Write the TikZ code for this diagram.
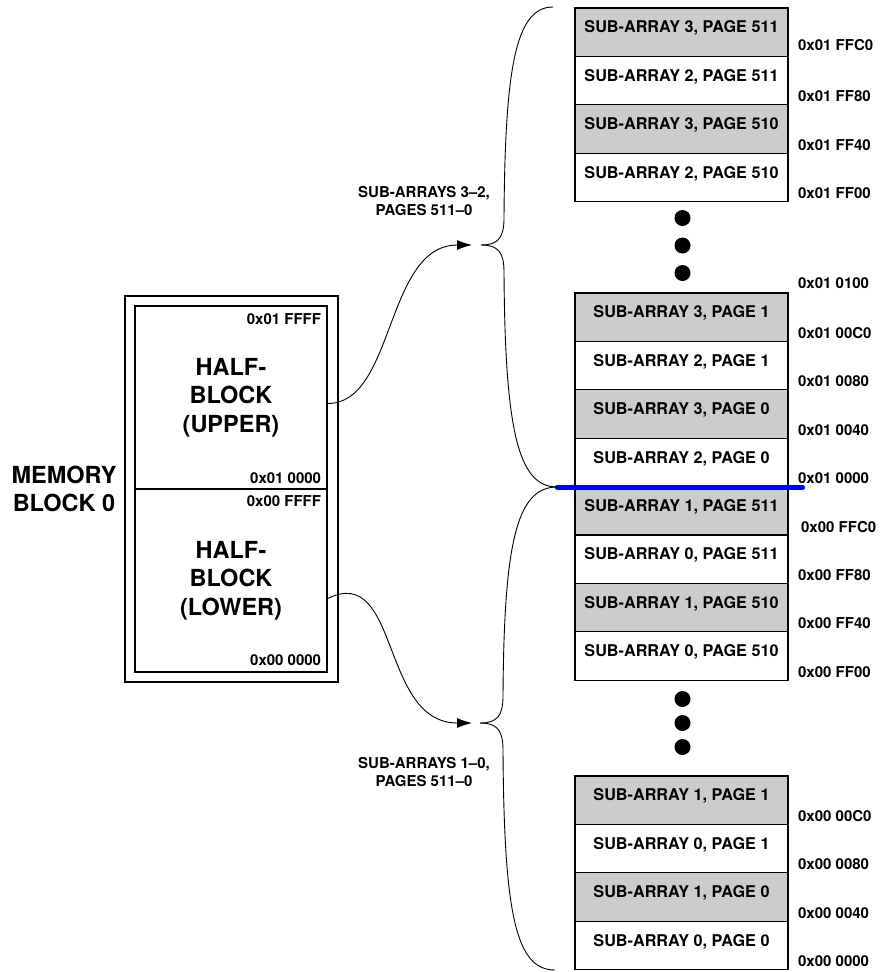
\documentclass[tikz,border=0pt]{standalone}
\usepackage{fontspec}
\setmainfont{TeX Gyre Heros}
\usetikzlibrary{positioning,arrows.meta}
\newcommand{\cellfont}{\fontsize{16.2}{18}\selectfont\bfseries}
\newcommand{\addrfont}{\fontsize{15}{18}\selectfont\bfseries}
\newcommand{\spanfont}{\fontsize{15}{18}\selectfont\bfseries}
\newcommand{\bigfont}{\fontsize{23.5}{28.5}\selectfont\bfseries}

\begin{document}
\begin{tikzpicture}[x=1pt,y=-1pt,node distance=48.4pt,
    cell/.style={draw,line width=1.2pt,minimum width=213pt,minimum height=48.4pt,
      text height=12pt,text depth=10.5pt,font=\cellfont},
    shaded/.style={cell,fill=gray!40},
    addr/.style={font=\addrfont,anchor=west,xshift=6pt,yshift=9pt},
    inaddr/.style={font=\addrfont,anchor=east,xshift=-3pt},
    half/.style={draw,line width=1.2pt,minimum width=192pt,minimum height=183pt,
      align=center,font=\bigfont},
    dot/.style={circle,fill,inner sep=0pt,minimum size=16pt},
    link/.style={line width=0.9pt,-{Latex[length=15pt,width=10pt]}},
    brace/.style={line width=0.9pt}]
    \useasboundingbox (0,0) rectangle (879,972);

    % memory block on the left
    \node[draw,line width=1.2pt,minimum width=213pt,minimum height=386pt] (block) at (231.5,489) {};
    \node[half,label={[inaddr,yshift=-14pt]north east:0x01 FFFF},
      label={[inaddr,yshift=11pt]south east:0x01 0000}] (upper) at (231,397.5) {HALF-\\BLOCK\\(UPPER)};
    \node[half,label={[inaddr,yshift=-13pt]north east:0x00 FFFF},
      label={[inaddr,yshift=12pt]south east:0x00 0000}] (lower) at (231,580.5) {HALF-\\BLOCK\\(LOWER)};
    \node[font=\bigfont,align=center] (name) at (64,489) {MEMORY\\BLOCK 0};

    % pages 511-510 of sub-arrays 3-2
    \node[shaded,label={[addr,yshift=3pt]south east:0x01 FFC0}] (s3p511) at (681.5,32.2) {SUB-ARRAY 3, PAGE 511};
    \node[cell,label={[addr]south east:0x01 FF80}] (s2p511) [below of=s3p511] {SUB-ARRAY 2, PAGE 511};
    \node[shaded,label={[addr]south east:0x01 FF40}] (s3p510) [below of=s2p511] {SUB-ARRAY 3, PAGE 510};
    \node[cell,label={[addr]south east:0x01 FF00}] (s2p510) [below of=s3p510] {SUB-ARRAY 2, PAGE 510};

    \node[dot] (d1) at (682.5,218) {};
    \node[dot] (d2) at (682.5,245.5) {};
    \node[dot] (d3) at (682.5,273) {};

    % pages 1-0 of sub-arrays 3-2, pages 511-510 of sub-arrays 1-0
    \node[shaded,label={[addr]north east:0x01 0100},
      label={[addr]south east:0x01 00C0}] (s3p1) at (681.5,317.2) {SUB-ARRAY 3, PAGE 1};
    \node[cell,label={[addr]south east:0x01 0080}] (s2p1) [below of=s3p1] {SUB-ARRAY 2, PAGE 1};
    \node[shaded,label={[addr]south east:0x01 0040}] (s3p0) [below of=s2p1] {SUB-ARRAY 3, PAGE 0};
    \node[cell,label={[addr]south east:0x01 0000}] (s2p0) [below of=s3p0] {SUB-ARRAY 2, PAGE 0};
    \node[shaded,label={[addr,xshift=3pt]south east:0x00 FFC0}] (s1p511) [below of=s2p0] {SUB-ARRAY 1, PAGE 511};
    \node[cell,label={[addr]south east:0x00 FF80}] (s0p511) [below of=s1p511] {SUB-ARRAY 0, PAGE 511};
    \node[shaded,label={[addr]south east:0x00 FF40}] (s1p510) [below of=s0p511] {SUB-ARRAY 1, PAGE 510};
    \node[cell,label={[addr]south east:0x00 FF00}] (s0p510) [below of=s1p510] {SUB-ARRAY 0, PAGE 510};

    \node[dot] (d4) at (682.5,699) {};
    \node[dot] (d5) at (682.5,723) {};
    \node[dot] (d6) at (682.5,747) {};

    % pages 1-0 of sub-arrays 1-0
    \node[shaded,label={[addr]south east:0x00 00C0}] (s1p1) at (681.5,800.2) {SUB-ARRAY 1, PAGE 1};
    \node[cell,label={[addr]south east:0x00 0080}] (s0p1) [below of=s1p1] {SUB-ARRAY 0, PAGE 1};
    \node[shaded,label={[addr]south east:0x00 0040}] (s1p0) [below of=s0p1] {SUB-ARRAY 1, PAGE 0};
    \node[cell,label={[addr]south east:0x00 0000}] (s0p0) [below of=s1p0] {SUB-ARRAY 0, PAGE 0};

    % split between the two half-blocks
    \draw[blue,line width=5pt,line cap=round] ([xshift=-17pt]s2p0.south west) -- ([xshift=14pt]s2p0.south east);

    \node[font=\spanfont,align=center] (spanU) at (424,201) {SUB-ARRAYS 3--2,\\PAGES 511--0};
    \node[font=\spanfont,align=center] (spanL) at (424,772) {SUB-ARRAYS 1--0,\\PAGES 511--0};

    \coordinate (tipU) at (472,245);
    \coordinate (tipL) at (472,723);
    \coordinate (braceU) at (481,245);
    \coordinate (braceL) at (480,723);

    \draw[link] ([yshift=-6pt]upper.east) .. controls (395,404) and (385,245) .. (tipU);
    \draw[link] ([yshift=-18pt]lower.east) .. controls (400,563) and (380,723) .. (tipL);

    % braces
    \draw[brace] (braceU) .. controls (498,245) and (504,238) .. (504,218)
      .. controls (505,70) and (515,7) .. (553,7);
    \draw[brace] (braceU) .. controls (498,245) and (504,252) .. (504,272)
      .. controls (505,430) and (518,487) .. (557,487);
    \draw[brace] (braceL) .. controls (497,723) and (503,716) .. (503,696)
      .. controls (504,545) and (516,487) .. (557,487);
    \draw[brace] (braceL) .. controls (497,723) and (503,730) .. (503,750)
      .. controls (504,915) and (516,970) .. (555,970);
  \end{tikzpicture}
\end{document}
